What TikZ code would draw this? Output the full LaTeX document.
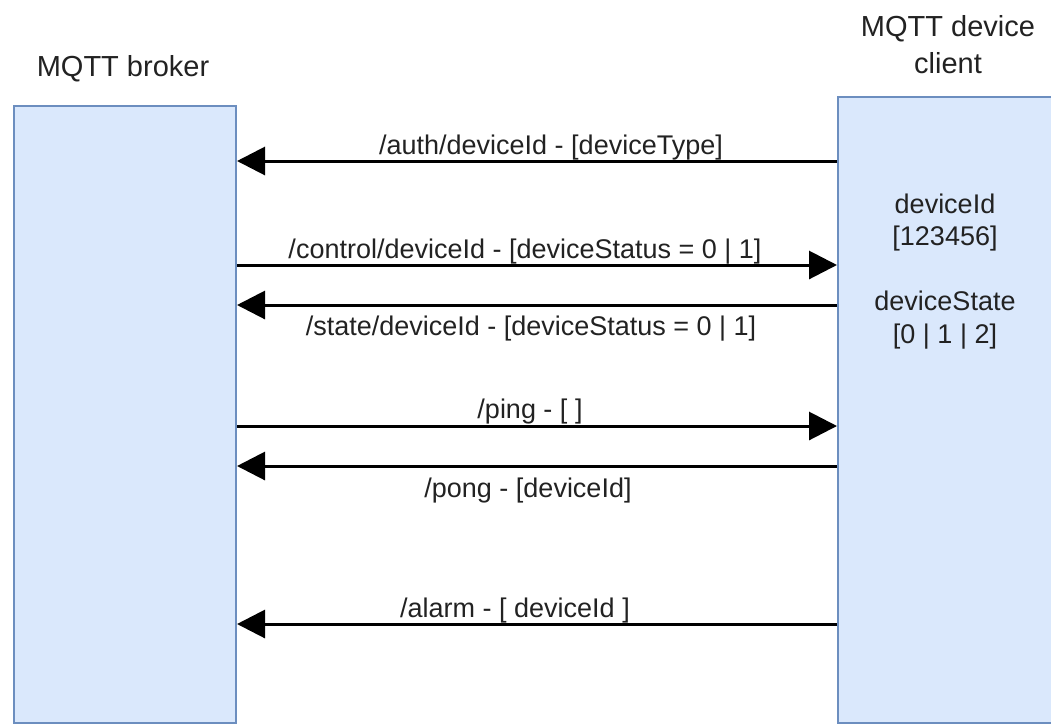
\documentclass[tikz,border=0pt]{standalone}
\usepackage{fontspec}
\setmainfont{Liberation Sans}
\usetikzlibrary{arrows.meta}
\definecolor{boxfill}{HTML}{DAE8FC}
\definecolor{boxline}{HTML}{6C8EBF}
\definecolor{ink}{HTML}{222222}
\begin{document}
\begin{tikzpicture}[x=1pt,y=1pt,
  lane/.style={draw=boxline, fill=boxfill, line width=2pt, rectangle,
    inner sep=0pt, anchor=north west},
  msg/.style={draw=black, line width=3pt, -{Triangle[length=28pt,width=28pt]}},
  lbl/.style={text=ink, font=\fontsize{27}{32.5}\selectfont, anchor=base,
    inner sep=0pt, align=center},
  ttl/.style={lbl, font=\fontsize{29}{36.6}\selectfont}]
\useasboundingbox (0,0) rectangle (1051,-724);

% participants
\node[lane, minimum width=222pt, minimum height=617pt] (broker) at (13,-105) {};
\node[lane, minimum width=230pt, minimum height=626pt] (client) at (837,-96) {};

% titles (base anchor = baseline of the last line)
\node[ttl] (brokertitle) at (123,-76.7) {MQTT broker};
\node[ttl] (clienttitle) at (948,-73.3) {MQTT device\\client};

% client state
\node[lbl] (clientstate) at (945,-343)
  {deviceId\\{[123456]}\\[32.5pt]deviceState\\{[0 | 1 | 2]}};

% messages
\draw[msg] (client.west |- 0,-161) -- (broker.east |- 0,-161);
\node[lbl] (authlbl) at (551,-154) {/auth/deviceId - [deviceType]};

\draw[msg] (broker.east |- 0,-265) -- (client.west |- 0,-265);
\node[lbl] (controllbl) at (525,-258) {/control/deviceId - [deviceStatus = 0 | 1]};

\draw[msg] (client.west |- 0,-305) -- (broker.east |- 0,-305);
\node[lbl] (statelbl) at (531,-335) {/state/deviceId - [deviceStatus = 0 | 1]};

\draw[msg] (broker.east |- 0,-426) -- (client.west |- 0,-426);
\node[lbl] (pinglbl) at (530,-418) {/ping - [ ]};

\draw[msg] (client.west |- 0,-466) -- (broker.east |- 0,-466);
\node[lbl] (ponglbl) at (528,-497) {/pong - [deviceId]};

\draw[msg] (client.west |- 0,-624) -- (broker.east |- 0,-624);
\node[lbl] (alarmlbl) at (515,-617) {/alarm - [ deviceId ]};
\end{tikzpicture}
\end{document}
